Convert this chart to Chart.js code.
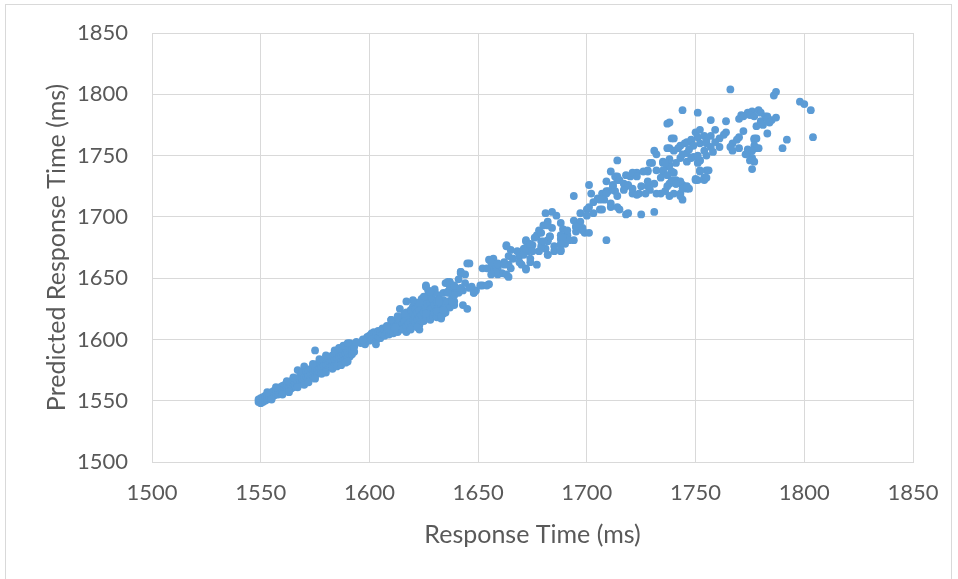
<!DOCTYPE html>
<html>
<head>
<meta charset="utf-8">
<script src="https://cdn.jsdelivr.net/npm/chart.js@4/dist/chart.umd.min.js"></script>
<style>
  html, body { margin: 0; padding: 0; background: #fff; }
  canvas { display: block; }
</style>
</head>
<body>
<canvas id="scatterChart" width="958" height="579" style="width:958px;height:579px"></canvas>
<script>
// values: [response time, predicted response time] in ms
const lowBand = [
  [1549,1549],[1549,1551],[1550,1548],[1550,1550],[1550,1552],[1551,1549],[1551,1551],[1551,1553],[1552,1550],[1552,1552],
  [1552,1554],[1553,1551],[1553,1553],[1553,1555],[1554,1552],[1554,1554],[1554,1556],[1555,1553],[1555,1555],[1555,1557],
  [1556,1554],[1556,1556],[1556,1558],[1557,1555],[1557,1557],[1557,1559],[1558,1555],[1558,1558],[1558,1560],[1559,1556],
  [1559,1559],[1559,1561],[1560,1557],[1560,1560],[1560,1562],[1561,1558],[1561,1561],[1561,1563],[1562,1558],[1562,1561],
  [1562,1564],[1563,1559],[1563,1562],[1563,1565],[1564,1560],[1564,1563],[1564,1566],[1565,1561],[1565,1564],[1565,1567],
  [1566,1562],[1566,1565],[1566,1568],[1567,1563],[1567,1566],[1567,1575],[1568,1564],[1568,1567],[1568,1570],[1569,1565],
  [1569,1568],[1569,1573],[1570,1566],[1570,1569],[1570,1578],[1571,1567],[1571,1570],[1571,1574],[1572,1568],[1572,1571],
  [1572,1575],[1573,1569],[1573,1572],[1573,1576],[1574,1570],[1574,1574],[1574,1577],[1575,1571],[1575,1575],[1575,1591],
  [1576,1572],[1576,1576],[1576,1580],[1577,1573],[1577,1577],[1577,1581],[1578,1574],[1578,1578],[1578,1582],[1579,1575],
  [1579,1579],[1579,1583],[1580,1576],[1580,1580],[1580,1584],[1581,1577],[1581,1581],[1581,1585],[1582,1578],[1582,1582],
  [1582,1586],[1583,1579],[1583,1583],[1583,1587],[1584,1579],[1584,1584],[1584,1588],[1585,1580],[1585,1585],[1585,1589],
  [1586,1581],[1586,1586],[1586,1590],[1587,1582],[1587,1587],[1587,1591],[1588,1583],[1588,1588],[1588,1592],[1589,1584],
  [1589,1589],[1589,1593],[1590,1585],[1590,1590],[1590,1594],[1591,1586],[1591,1591],[1591,1597],[1592,1588],[1592,1592],
  [1592,1596],[1593,1590],[1593,1594],
  [1560,1555],[1562,1566],[1563,1557],[1565,1569],[1567,1561],[1570,1563],[1572,1565],[1574,1580],[1575,1568],[1577,1584],
  [1578,1572],[1580,1573],[1580,1587],[1583,1576],[1584,1591],[1585,1578],[1586,1593],[1587,1579],[1588,1595],[1589,1581],
  [1590,1582],[1590,1597],[1557,1561],[1555,1551],[1553,1557]
];

const midBand = [
  [1596,1597],[1597,1599],[1598,1600],[1598,1596],[1599,1602],[1600,1599],[1600,1603],[1601,1600],[1601,1605],[1602,1602],
  [1602,1606],[1603,1599],[1603,1604],[1604,1603],[1604,1607],[1605,1601],[1605,1606],[1606,1604],[1606,1609],[1607,1603],
  [1607,1608],[1608,1606],[1608,1611],[1609,1604],[1609,1609],[1610,1607],[1610,1612],[1610,1616],[1611,1605],[1611,1610],
  [1612,1608],[1612,1614],[1613,1606],[1613,1611],[1613,1617],[1614,1609],[1614,1615],[1615,1612],[1615,1618],[1615,1608],
  [1616,1614],[1616,1620],[1617,1611],[1617,1616],[1617,1622],[1618,1613],[1618,1619],[1619,1615],[1619,1624],[1619,1610],
  [1620,1617],[1620,1621],[1620,1627],[1621,1614],[1621,1619],[1621,1625],[1622,1616],[1622,1622],[1622,1630],[1623,1612],
  [1623,1618],[1623,1624],[1624,1620],[1624,1627],[1624,1633],[1625,1615],[1625,1622],[1625,1629],[1626,1618],[1626,1625],
  [1626,1631],[1627,1621],[1627,1627],[1627,1636],[1628,1616],[1628,1624],[1628,1630],[1629,1620],[1629,1626],[1629,1633],
  [1630,1622],[1630,1628],[1630,1641],[1631,1618],[1631,1625],[1631,1631],[1632,1623],[1632,1629],[1632,1636],[1633,1620],
  [1633,1627],[1634,1625],[1634,1632],[1635,1622],[1635,1629],[1636,1631],[1637,1626],[1638,1634],[1639,1628],
  [1626,1644],[1627,1640],[1630,1639],[1636,1647],[1638,1644],[1639,1640],[1637,1639],[1641,1638],[1639,1631],[1642,1655],
  [1617,1606],[1623,1608],[1633,1617],[1634,1621],[1603,1596],[1594,1598],[1597,1600],
  [1643,1628],[1645,1625],[1638,1631],[1636,1639],[1634,1638],[1632,1631],[1630,1638],[1628,1639],[1626,1643],[1625,1635],
  [1623,1630],[1620,1632],[1617,1631],[1614,1625],[1616,1621],[1613,1619],[1610,1616],[1608,1610],[1612,1610],[1619,1608],
  [1622,1610],[1626,1621],[1631,1623],[1633,1619],[1634,1624]
];

const upperMid = [
  [1635,1646],[1637,1643],[1641,1649],[1642,1654],[1646,1662],[1643,1640],[1647,1643],[1648,1638],[1639,1636],[1636,1638],
  [1652,1644],[1655,1645],[1652,1658],[1655,1665],[1657,1666],[1656,1658],[1658,1661],[1659,1658],[1659,1653],[1661,1654],
  [1662,1663],[1663,1676],[1665,1673],[1666,1666],[1664,1661],[1663,1653],[1668,1672],[1669,1668],[1671,1674],[1672,1680],
  [1673,1672],[1674,1666],[1675,1677],[1670,1661],[1672,1658],[1677,1685],[1678,1689],[1680,1693],[1682,1696],[1679,1680],
  [1681,1674],[1682,1681],[1678,1672],
  [1645,1662],[1642,1655],[1644,1653],[1637,1647],[1639,1644],[1642,1642],[1644,1646],[1646,1642],[1649,1640],[1651,1644],
  [1654,1644],[1648,1638],
  [1654,1658],[1656,1663],[1659,1662],[1658,1655],[1656,1653],[1663,1677],[1664,1668],[1666,1666],[1662,1661],[1665,1658],
  [1664,1651],[1669,1663],[1671,1669],[1672,1674],[1674,1677],[1675,1672],[1674,1663],[1677,1661],[1672,1657],[1679,1676],
  [1682,1680],[1683,1684],[1685,1672],[1682,1669],[1688,1672],[1688,1682],[1691,1685],[1694,1681],[1695,1688],[1690,1678],
  [1672,1681],[1674,1678],[1676,1683],[1679,1687],[1680,1680],[1683,1684],[1684,1691],[1682,1693],[1681,1703],[1684,1704],
  [1686,1701],[1688,1695],[1689,1690],[1691,1685],[1692,1681],[1688,1685],[1694,1697],[1695,1692],[1698,1689],[1699,1687],
  [1697,1703],[1700,1706],[1701,1708],[1703,1712],[1694,1717],[1701,1726],[1702,1719],[1705,1715],[1707,1719],[1708,1714],
  [1710,1721],[1712,1725],[1714,1733],[1714,1746],[1709,1681],[1706,1706],[1711,1708],[1715,1706],[1718,1702]
];

const upperBand = [
  [1744,1714],[1731,1704],[1725,1702],[1719,1703],[1746,1723],[1750,1730],[1754,1732],[1752,1737],[1755,1738],[1751,1744],
  [1729,1744],[1728,1738],[1732,1738],[1735,1744],[1737,1741],[1740,1736],[1738,1727],[1741,1727],[1743,1719],[1734,1719],
  [1728,1725],[1724,1719],[1721,1719],[1718,1725],[1720,1733],[1723,1736],[1717,1727],[1714,1730],[1713,1721],[1709,1721],
  [1706,1714],[1711,1711],[1714,1708],[1707,1706],[1703,1703],[1700,1701],[1697,1696],[1695,1692],[1698,1691],[1701,1687],
  [1691,1689],[1689,1683],[1688,1678],[1685,1676],[1682,1669],[1688,1673],
  [1738,1777],[1744,1787],[1751,1785],[1739,1764],[1742,1756],[1738,1756],[1745,1760],[1748,1761],[1751,1765],[1752,1760],
  [1755,1760],[1746,1752],[1749,1749],[1752,1746],[1746,1745],[1743,1748],[1731,1754],[1732,1751],[1730,1744],[1728,1737],
  [1735,1745],[1738,1742],[1739,1737],[1741,1730],[1744,1726],[1735,1737],[1734,1732],[1731,1727],[1729,1722],[1732,1719],
  [1736,1721],[1738,1717],[1743,1729],[1747,1723],[1751,1730],[1711,1737],[1713,1733],[1709,1729],[1712,1726],[1715,1730],
  [1718,1734],[1721,1736],[1723,1733],[1719,1726],[1721,1723],[1717,1722],[1709,1719],[1714,1717],[1726,1737],[1728,1729],
  [1725,1725],[1727,1719],[1723,1718]
];

const topCluster = [
  [1766,1804],[1786,1799],[1787,1802],[1798,1794],[1800,1792],[1803,1787],[1804,1765],[1792,1763],[1790,1756],[1737,1776],
  [1757,1779],[1764,1778],[1771,1783],[1774,1785],[1776,1786],[1779,1787],[1780,1785],[1783,1782],[1785,1779],[1787,1781],
  [1780,1778],[1781,1775],[1778,1774],[1783,1768],[1777,1764],[1777,1758],[1779,1756],[1778,1764],[1774,1752],[1776,1748],
  [1776,1739],[1773,1751],[1774,1755],[1764,1769],[1763,1767],[1761,1764],[1759,1761],[1757,1757],[1761,1757],[1758,1753],
  [1755,1750],[1752,1746],[1756,1738],[1752,1738],[1750,1731],[1754,1730],[1746,1761],[1748,1763],[1750,1769],[1752,1771],
  [1754,1766],[1755,1762],[1749,1758],[1747,1755],[1744,1751],[1748,1748],[1751,1750],[1754,1754],[1757,1766],[1759,1771],
  [1743,1758],[1740,1754],[1738,1747],[1736,1744],[1741,1744],[1737,1756],[1740,1764],[1735,1738],[1737,1734],[1739,1730],
  [1741,1727],[1744,1723],[1746,1725],[1737,1725],[1740,1719],[1743,1717],[1755,1732],
  [1770,1780],[1772,1782],[1775,1783],[1777,1782],[1782,1782],[1783,1780],[1784,1777],[1780,1776],[1772,1770],[1770,1765],
  [1769,1763],[1767,1760],[1766,1757],[1767,1754],[1770,1756],[1777,1763],[1778,1756],[1776,1754],[1775,1746],[1777,1745]
];

const axisMin = 1500;
const axisMax = 1850;
const axisStep = 50;

const xTitle = 'Response Time (ms)';
const yTitle = 'Predicted Response Time (ms)';

const allPoints = [...lowBand, ...midBand, ...upperMid, ...upperBand, ...topCluster]
  .map(([x, y]) => ({ x: x, y: y }));

Chart.defaults.font.family = 'Lato, "Open Sans", sans-serif';
Chart.defaults.color = '#595959';

// thin grey frame round the whole chart, like the office chart border
const frame = {
  id: 'frame',
  beforeDraw(chart) {
    const ctx = chart.ctx;
    ctx.save();
    ctx.fillStyle = '#ffffff';
    ctx.fillRect(0, 0, chart.width, chart.height);
    ctx.strokeStyle = '#d9d9d9';
    ctx.lineWidth = 1;
    ctx.strokeRect(5.5, 4.5, 946, 600);
    ctx.restore();
  }
};

const gridColor = '#d9d9d9';

new Chart(document.getElementById('scatterChart'), {
  type: 'scatter',
  data: {
    datasets: [{
      label: 'Predicted',
      data: allPoints,
      backgroundColor: '#5b9bd5',
      borderWidth: 0,
      pointRadius: 3.9,
      pointHoverRadius: 3.9
    }]
  },
  options: {
    responsive: false,
    animation: false,
    layout: { padding: { left: 0, top: 33, right: 45, bottom: 0 } },
    plugins: {
      legend: { display: false },
      tooltip: { enabled: false }
    },
    scales: {
      x: {
        type: 'linear',
        min: axisMin,
        max: axisMax,
        afterFit: (scale) => { scale.height = 117; },
        ticks: { stepSize: axisStep, padding: 18, font: { size: 22 }, callback: v => String(v) },
        grid: { color: gridColor, drawTicks: false },
        border: { color: gridColor },
        title: { display: true, text: xTitle, font: { size: 25 }, padding: { top: 0, bottom: 29 } }
      },
      y: {
        type: 'linear',
        min: axisMin,
        max: axisMax,
        // keep the plot area where the reference has it, label overhang is not needed
        afterFit: (scale) => { scale.width = 152; scale.paddingTop = 0; scale.paddingBottom = 0; },
        ticks: { stepSize: axisStep, padding: 24, font: { size: 22 }, callback: v => String(v) },
        grid: { color: gridColor, drawTicks: false },
        border: { color: gridColor },
        title: { display: true, text: yTitle, font: { size: 25 }, padding: { top: 42, bottom: 0 } }
      }
    }
  },
  plugins: [frame]
});
</script>
</body>
</html>
